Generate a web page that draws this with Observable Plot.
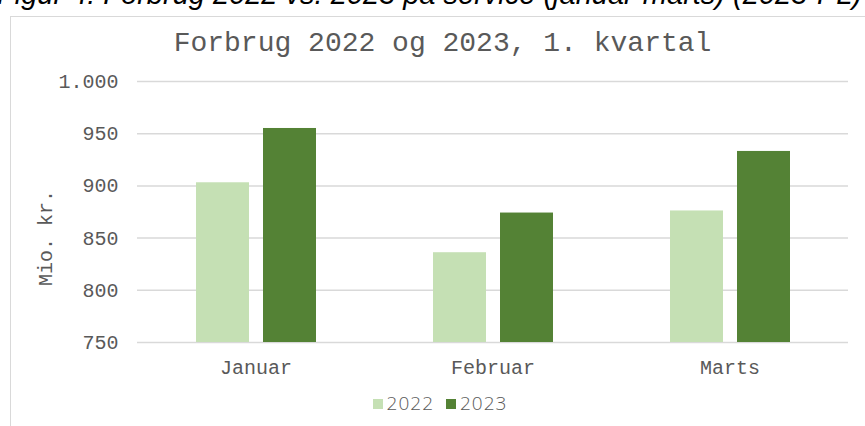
<!DOCTYPE html>
<html>
<head>
<meta charset="utf-8">
<script src="https://cdn.jsdelivr.net/npm/d3@7"></script>
<script src="https://cdn.jsdelivr.net/npm/@observablehq/plot@0.6"></script>
<style>
  html, body { margin: 0; padding: 0; background: #fff; width: 865px; height: 426px; overflow: hidden; }
  #wrap { position: relative; width: 865px; height: 426px; overflow: hidden; }
  #caption { position: absolute; left: -3px; top: -22px; white-space: nowrap;
    font-family: "Liberation Sans", sans-serif; font-style: italic; font-size: 29px; color: #000; }
  #frame { position: absolute; left: 10px; top: 16px; width: 900px; height: 500px;
    border: 1.5px solid #d9d9d9; box-sizing: border-box; }
  #title { position: absolute; left: 0; width: 885px; top: 28px; text-align: center;
    font-family: "Liberation Mono", monospace; font-size: 28px; color: #595959; }
  #ylabel { position: absolute; left: 46px; top: 238px; transform: translate(-50%, -50%) rotate(-90deg);
    font-family: "Liberation Mono", monospace; font-size: 20px; color: #595959; white-space: nowrap; }
  #chart { position: absolute; left: 0; top: 0; }
  #legend { position: absolute; left: 0; width: 880px; top: 390px; text-align: center;
    font-family: "Open Sans", sans-serif; font-weight: 300; font-size: 19px; letter-spacing: 1px; color: #595959; }
  #legend span.item { display: inline-block; margin: 0 6px; }
  #legend span.sw { display: inline-block; width: 10px; height: 10px; margin-right: 4px; vertical-align: 1px; }
</style>
</head>
<body>
<div id="wrap">
  <div id="caption">Figur 4: Forbrug 2022 vs. 2023 på service (januar-marts) (2023-PL)</div>
  <div id="frame"></div>
  <div id="chart"></div>
  <div id="title">Forbrug 2022 og 2023, 1. kvartal</div>
  <div id="ylabel">Mio. kr.</div>
  <div id="legend"></div>
</div>
<script>
const months = ["Januar", "Februar", "Marts"];
const years = ["2022", "2023"];
const values2022 = [903, 836, 876];
const values2023 = [955, 874, 933];
const yTicks = [750, 800, 850, 900, 950, 1000];
const colors = ["#C5E0B4", "#548235"];

const data = [];
months.forEach((m, i) => {
  data.push({month: m, year: years[0], value: values2022[i]});
  data.push({month: m, year: years[1], value: values2023[i]});
});

const fmt = d => d >= 1000 ? d3.format(",")(d).replace(/,/g, ".") : String(d);

const chart = Plot.plot({
  width: 865,
  height: 385,
  marginTop: 81,
  marginBottom: 43,
  marginLeft: 136,
  marginRight: 17,
  style: { fontFamily: "Liberation Mono, monospace", fontSize: "20px", color: "#595959", background: "transparent", overflow: "visible" },
  facet: { data, x: "month" },
  fx: { domain: months, padding: 0, label: null, tickSize: 0, tickPadding: 17, axis: "bottom" },
  x: { type: "band", domain: years, paddingInner: 0.2115, paddingOuter: 0.861, axis: null },
  y: { domain: [750, 1000], clamp: true, ticks: yTicks, tickFormat: fmt, tickSize: 0, tickPadding: 19, label: null },
  color: { type: "ordinal", domain: years, range: colors },
  marks: [
    Plot.ruleY(yTicks, { stroke: "#d9d9d9", strokeWidth: 1.5 }),
    Plot.barY(data, { x: "year", y: "value", fill: "year", inset: 0 })
  ]
});
// drop Plot's warning indicator glyph, if any
chart.querySelectorAll("text").forEach(t => { if (t.textContent.startsWith("\u26a0")) t.remove(); });
document.getElementById("chart").appendChild(chart);

const legend = document.getElementById("legend");
years.forEach((y, i) => {
  const item = document.createElement("span");
  item.className = "item";
  const sw = document.createElement("span");
  sw.className = "sw";
  sw.style.background = colors[i];
  item.appendChild(sw);
  item.appendChild(document.createTextNode(y));
  legend.appendChild(item);
});
</script>
</body>
</html>
